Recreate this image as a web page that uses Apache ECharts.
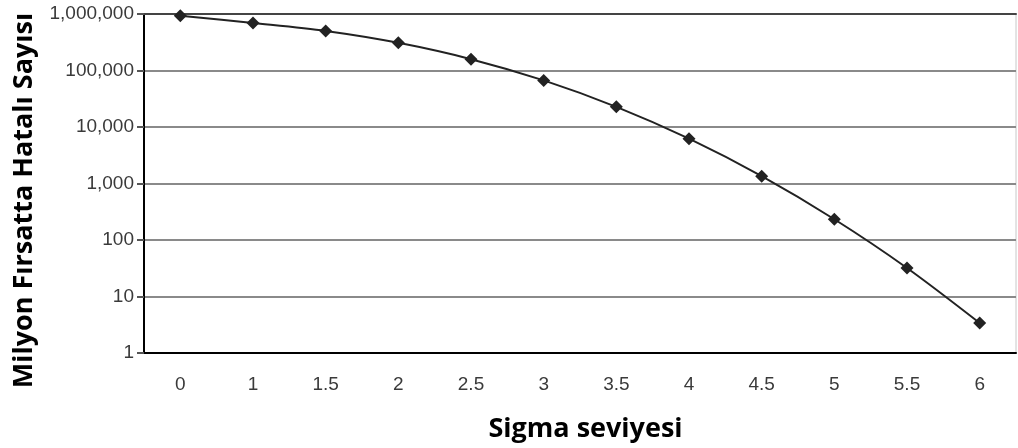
<!DOCTYPE html>
<html><head><meta charset="utf-8">
<script src="https://cdn.jsdelivr.net/npm/echarts@6/dist/echarts.min.js"></script>
<style>html,body{margin:0;padding:0;background:#fff}#c{width:1018px;height:448px}</style>
</head><body><div id="c"></div>
<script>
const categories = ['0','1','1.5','2','2.5','3','3.5','4','4.5','5','5.5','6'];
const dpmo = [933193, 691462, 500000, 308538, 158655, 66807, 22750, 6210, 1350, 233, 32, 3.4];
const yName = 'Milyon Fırsatta Hatalı Sayısı';
const xName = 'Sigma seviyesi';

const chart = echarts.init(document.getElementById('c'));
chart.setOption({
  animation: false,
  grid: {left: 144, right: 2, top: 14, bottom: 94, show: true, borderColor: '#c8c8c8', borderWidth: 1},
  xAxis: [{
    type: 'category', data: categories, boundaryGap: true,
    name: xName, nameLocation: 'middle', nameGap: 63,
    nameTextStyle: {fontFamily: 'Open Sans', fontWeight: 'bold', fontSize: 27, color: '#000', padding: [0, 0, 0, 11]},
    axisLine: {lineStyle: {color: '#000', width: 2}},
    axisTick: {length: 7, lineStyle: {color: '#555', width: 2}},
    axisLabel: {fontFamily: 'Liberation Sans', fontSize: 19, color: '#3a3a3a', margin: 22}
  }, {
    type: 'category', data: categories, position: 'top',
    axisLine: {lineStyle: {color: '#444', width: 2}},
    axisTick: {show: false}, axisLabel: {show: false}
  }],
  yAxis: {
    type: 'log', logBase: 10, min: 1, max: 1000000,
    name: yName, nameLocation: 'middle', nameGap: 106, nameRotate: 90,
    nameTextStyle: {fontFamily: 'Open Sans', fontWeight: 'bold', fontSize: 27, color: '#000', padding: [0, 34, 0, 0]},
    axisLine: {show: true, lineStyle: {color: '#000', width: 2}},
    axisTick: {show: true, length: 7, lineStyle: {color: '#555', width: 2}},
    axisLabel: {fontFamily: 'Liberation Sans', fontSize: 19, color: '#3a3a3a', margin: 10,
      formatter: v => Number(v).toLocaleString('en-US')},
    splitLine: {lineStyle: {color: '#8a8a8a', width: 2}}
  },
  series: [{
    type: 'line', data: dpmo, smooth: 0.3, xAxisIndex: 0,
    symbol: 'diamond', symbolSize: 13,
    lineStyle: {color: '#222', width: 2},
    itemStyle: {color: '#222'}
  }]
});
</script></body></html>
